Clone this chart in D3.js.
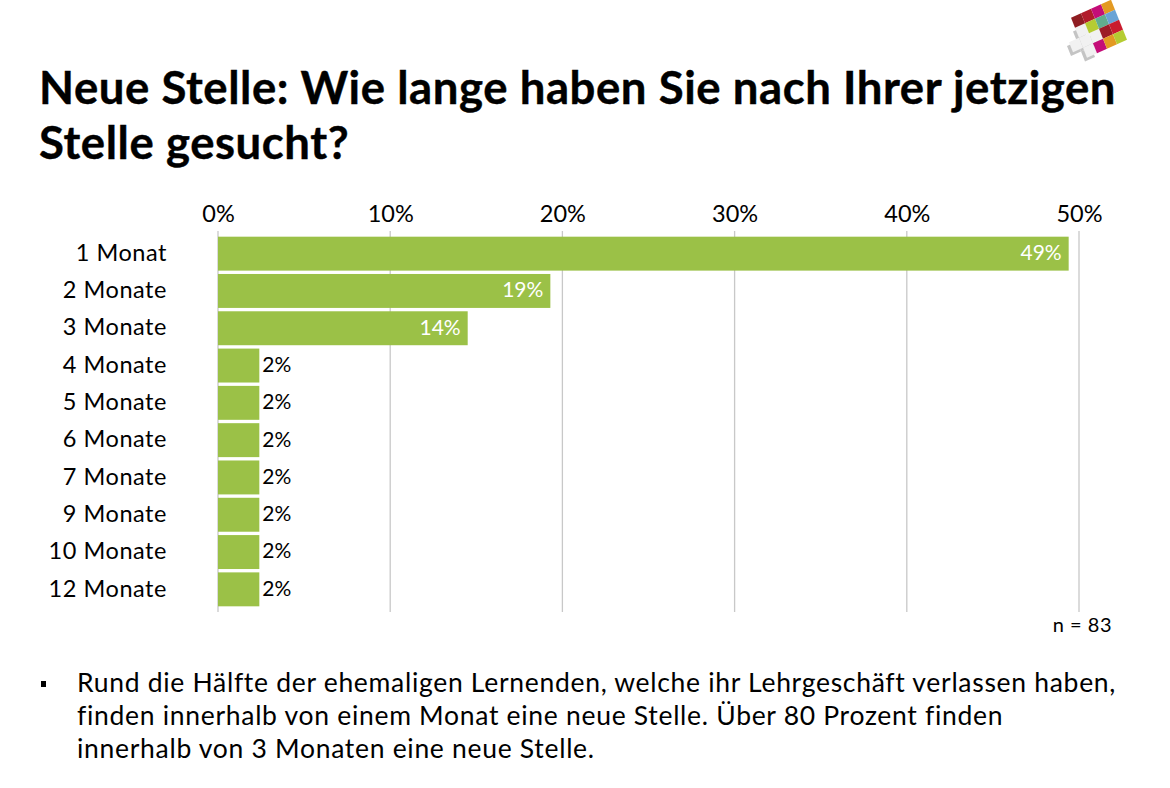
<!DOCTYPE html>
<html lang="de">
<head>
<meta charset="utf-8">
<script src="https://cdn.jsdelivr.net/npm/d3@7"></script>
<style>
  html, body { margin: 0; padding: 0; background: #fff; }
  svg { display: block; font-family: Lato, "Open Sans", sans-serif; }
</style>
</head>
<body>
<svg id="chart" width="1170" height="788"></svg>
<script>
const categories = ["1 Monat", "2 Monate", "3 Monate", "4 Monate", "5 Monate", "6 Monate", "7 Monate", "9 Monate", "10 Monate", "12 Monate"];
const values = [49.4, 19.3, 14.5, 2.4, 2.4, 2.4, 2.4, 2.4, 2.4, 2.4];
const valueLabels = ["49%", "19%", "14%", "2%", "2%", "2%", "2%", "2%", "2%", "2%"];
const tickValues = [0, 10, 20, 30, 40, 50];
const titleLines = ["Neue Stelle: Wie lange haben Sie nach Ihrer jetzigen", "Stelle gesucht?"];
const bodyLines = [
  "Rund die Hälfte der ehemaligen Lernenden, welche ihr Lehrgeschäft verlassen haben,",
  "finden innerhalb von einem Monat eine neue Stelle. Über 80 Prozent finden",
  "innerhalb von 3 Monaten eine neue Stelle."
];
const sampleNote = "n = 83";

const svg = d3.select("#chart");

// titel
svg.append("g").selectAll("text")
  .data(titleLines)
  .join("text")
  .attr("x", 39)
  .attr("y", (d, i) => 104 + i * 55)
  .attr("font-size", 45.5)
  .attr("font-weight", 700)
  .attr("letter-spacing", 0.57)
  .attr("stroke", "#000")
  .attr("stroke-width", 0.4)
  .attr("fill", "#000")
  .text(d => d);

// scales
const x = d3.scaleLinear().domain([0, 50]).range([218, 1079]);
const y = d3.scaleBand().domain(categories).range([235, 608]).paddingInner(0.09).paddingOuter(0.045);

// gridlines
svg.append("g").selectAll("line")
  .data(tickValues)
  .join("line")
  .attr("x1", d => x(d))
  .attr("x2", d => x(d))
  .attr("y1", 231)
  .attr("y2", 612)
  .attr("stroke", "#c8c8c8")
  .attr("stroke-width", 1.3);

// top axis labels
const xAxis = d3.axisTop(x).tickValues(tickValues).tickFormat(d => d + "%").tickSize(0).tickPadding(0);
const xAxisG = svg.append("g").attr("transform", "translate(0,222)").call(xAxis);
xAxisG.select(".domain").remove();
xAxisG.selectAll("text")
  .attr("font-family", "Lato, 'Open Sans', sans-serif")
  .attr("font-size", 23.5)
  .attr("fill", "#000");

// bars
svg.append("g").selectAll("rect")
  .data(values)
  .join("rect")
  .attr("x", x(0))
  .attr("y", (d, i) => y(categories[i]))
  .attr("width", d => x(d) - x(0))
  .attr("height", y.bandwidth())
  .attr("fill", "#9bc147");

// category labels
svg.append("g").selectAll("text")
  .data(categories)
  .join("text")
  .attr("x", 167)
  .attr("y", d => y(d) + y.bandwidth() / 2 - 1)
  .attr("dy", "0.35em")
  .attr("text-anchor", "end")
  .attr("font-size", 23.5)
  .attr("letter-spacing", 0.55)
  .attr("fill", "#000")
  .text(d => d);

// value labels, inside for the long bars
svg.append("g").selectAll("text")
  .data(values)
  .join("text")
  .attr("x", d => d > 5 ? x(d) - 7 : x(d) + 3)
  .attr("y", (d, i) => y(categories[i]) + y.bandwidth() / 2 - 1)
  .attr("dy", "0.35em")
  .attr("text-anchor", d => d > 5 ? "end" : "start")
  .attr("font-size", 21)
  .attr("fill", d => d > 5 ? "#fff" : "#000")
  .text((d, i) => valueLabels[i]);

svg.append("text")
  .attr("x", 1112)
  .attr("y", 632)
  .attr("text-anchor", "end")
  .attr("font-size", 20)
  .attr("letter-spacing", 0.5)
  .attr("fill", "#000")
  .text(sampleNote);

// bullet text
svg.append("rect").attr("x", 41).attr("y", 681).attr("width", 5).attr("height", 6).attr("fill", "#000");
svg.append("g").selectAll("text")
  .data(bodyLines)
  .join("text")
  .attr("x", 77)
  .attr("y", (d, i) => 692 + i * 33)
  .attr("font-size", 26.5)
  .attr("letter-spacing", 0.7)
  .attr("fill", "#000")
  .text(d => d);

// logo, a skewed grid of coloured tiles with a grey edge under the white cross
const logoCells = [
  [0, 0, "#8f1d22"], [1, 0, "#b11c2b"], [2, 0, "#c40d78"], [3, 0, "#e39a22"],
  [1, 1, "#b5cc32"], [2, 1, "#62ad8d"], [3, 1, "#6aa3d5"],
  [2, 2, "#9c1c26"], [3, 2, "#c91c2e"],
  [1, 3, "#c40d78"], [2, 3, "#e39a22"], [3, 3, "#b5cc32"]
];
const whiteCells = [[0, 1], [0, 2], [1, 2], [-1, 2], [0, 3]];
const logo = svg.append("g").attr("transform", "matrix(10,-4.5,4,10,1071,17.75)");
logo.selectAll("rect.shade")
  .data(whiteCells)
  .join("rect")
  .attr("class", "shade")
  .attr("x", d => d[0] - 0.3)
  .attr("y", d => d[1] + 0.25)
  .attr("width", 1)
  .attr("height", 1)
  .attr("fill", "#c4c4c4");
logo.selectAll("rect.white")
  .data(whiteCells)
  .join("rect")
  .attr("class", "white")
  .attr("x", d => d[0])
  .attr("y", d => d[1])
  .attr("width", 1)
  .attr("height", 1)
  .attr("fill", "#f1f1f1");
logo.selectAll("rect.tile")
  .data(logoCells)
  .join("rect")
  .attr("class", "tile")
  .attr("x", d => d[0])
  .attr("y", d => d[1])
  .attr("width", 1)
  .attr("height", 1)
  .attr("fill", d => d[2]);
</script>
</body>
</html>
